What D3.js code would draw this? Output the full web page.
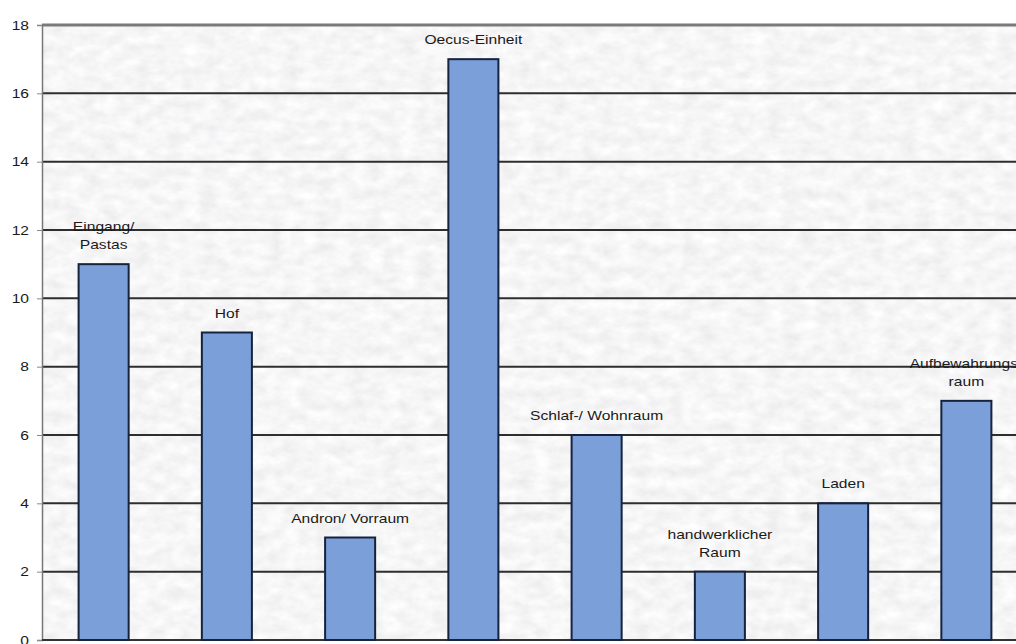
<!DOCTYPE html>
<html>
<head>
<meta charset="utf-8">
<script src="https://cdn.jsdelivr.net/npm/d3@7/dist/d3.min.js"></script>
<style>
  html, body { margin: 0; padding: 0; background: #ffffff; }
  svg { display: block; }
  text { font-family: "Liberation Sans", Arial, sans-serif; fill: #1a1a1a; }
</style>
</head>
<body>
<svg id="chart" width="1016" height="644"></svg>
<script>
// Room types and counts
const categories = ["Eingang/ Pastas", "Hof", "Andron/ Vorraum", "Oecus-Einheit",
                    "Schlaf-/ Wohnraum", "handwerklicher Raum", "Laden", "Aufbewahrungsraum"];
const labelLines = [["Eingang/", "Pastas"], ["Hof"], ["Andron/ Vorraum"], ["Oecus-Einheit"],
                    ["Schlaf-/ Wohnraum"], ["handwerklicher", "Raum"], ["Laden"], ["Aufbewahrungs-", "raum"]];
const values = [11, 9, 3, 17, 6, 2, 4, 7];
const yTicks = [0, 2, 4, 6, 8, 10, 12, 14, 16, 18];

const W = 1016, H = 644;
const plot = { left: 42, top: 25, bottom: 640, right: 1028 };
const svg = d3.select("#chart");

const x = d3.scaleBand()
  .domain(categories)
  .range([plot.left, plot.right])
  .paddingInner(0.594)
  .paddingOuter(0.297);

const y = d3.scaleLinear().domain([0, 18]).range([plot.bottom, plot.top]);

// Fine mottled grey backdrop for the plot area
const defs = svg.append("defs");
const f = defs.append("filter").attr("id", "marble")
  .attr("x", 0).attr("y", 0).attr("width", 1).attr("height", 1)
  .attr("filterUnits", "objectBoundingBox");
f.append("feTurbulence").attr("type", "fractalNoise")
  .attr("baseFrequency", "0.06 0.09").attr("numOctaves", 3).attr("seed", 11).attr("result", "n");
f.append("feColorMatrix").attr("in", "n").attr("type", "matrix")
  .attr("values", "0.22 0 0 0 0.81  0.22 0 0 0 0.81  0.22 0 0 0 0.82  0 0 0 0 1");

svg.append("rect")
  .attr("x", plot.left).attr("y", plot.top)
  .attr("width", W - plot.left).attr("height", plot.bottom - plot.top)
  .attr("fill", "#ececec")
  .attr("filter", "url(#marble)");

// Horizontal gridlines
svg.append("g").selectAll("line")
  .data(yTicks.filter(d => d > 0))
  .join("line")
  .attr("x1", plot.left).attr("x2", W)
  .attr("y1", d => y(d)).attr("y2", d => y(d))
  .attr("stroke", d => d === 18 ? "#7a7a7a" : "#2e2e2e")
  .attr("stroke-width", d => d === 18 ? 3 : 2);

// Left axis with ticks and labels
const yAxis = d3.axisLeft(y).tickValues(yTicks).tickSize(5).tickPadding(8).tickFormat(d3.format("d"));
const gy = svg.append("g").attr("transform", `translate(${plot.left},0)`).call(yAxis);
gy.select(".domain").attr("stroke", "#777").attr("stroke-width", 1.5);
gy.selectAll(".tick line").attr("stroke", "#888");
gy.selectAll(".tick text")
  .attr("font-size", 13)
  .attr("fill", "#2a2a2a")
  .each(function () {
    const t = d3.select(this);
    const tx = +t.attr("x");
    t.attr("transform", `translate(${tx},0) scale(1.2,1) translate(${-tx},0)`);
  });

// Baseline
svg.append("line")
  .attr("x1", plot.left).attr("x2", W)
  .attr("y1", y(0)).attr("y2", y(0))
  .attr("stroke", "#333").attr("stroke-width", 2);

// Bars
svg.append("g").selectAll("rect")
  .data(values)
  .join("rect")
  .attr("x", (d, i) => x(categories[i]))
  .attr("y", d => y(d))
  .attr("width", x.bandwidth())
  .attr("height", d => y(0) - y(d))
  .attr("fill", "#7b9fd9")
  .attr("stroke", "#16223e")
  .attr("stroke-width", 2);

// Category labels above bars
const lineH = 18;
const lbl = svg.append("g").selectAll("g")
  .data(values)
  .join("g")
  .attr("transform", (d, i) => {
    const cx = x(categories[i]) + x.bandwidth() / 2;
    return `translate(${cx},${y(d) - 15}) scale(1.2,1)`;
  });
lbl.each(function (d, i) {
  const lines = labelLines[i];
  const g = d3.select(this);
  lines.forEach((s, k) => {
    g.append("text")
      .attr("text-anchor", "middle")
      .attr("font-size", 13)
      .attr("y", -(lines.length - 1 - k) * lineH)
      .text(s);
  });
});
</script>
</body>
</html>
